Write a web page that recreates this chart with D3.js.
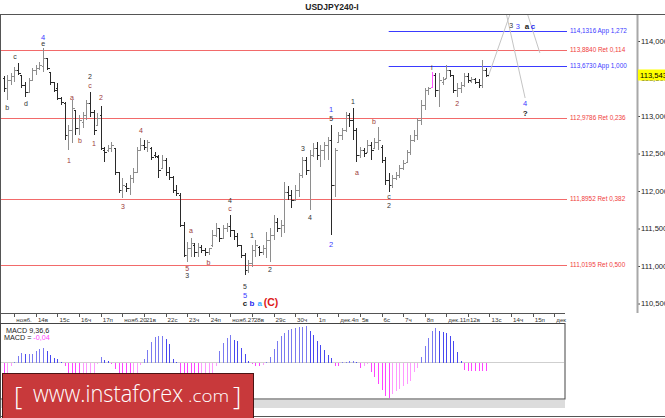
<!DOCTYPE html>
<html><head><meta charset="utf-8">
<script src="https://cdn.jsdelivr.net/npm/d3@7"></script>
<style>body{margin:0;background:#fff;}svg{display:block;font-family:"Liberation Sans",Arial,sans-serif;}</style>
</head><body>
<svg id="c" width="665" height="418"></svg>
<script>
// ---------- DATA ----------
const opens = [113.51,113.37,113.48,113.53,113.61,113.55,113.41,113.32,113.48,113.61,113.64,113.67,113.77,113.59,113.45,113.37,113.24,113.17,112.75,112.81,113.08,112.84,112.92,113.01,113.17,113.05,112.88,113.01,112.55,112.55,112.57,112.57,112.25,112.01,112.07,112.04,112.17,112.25,112.55,112.61,112.59,112.57,112.48,112.45,112.31,112.41,112.25,112.19,112.01,111.95,111.55,111.15,111.24,111.28,111.19,111.25,111.21,111.19,111.28,111.41,111.51,111.37,111.51,111.53,111.48,111.40,111.28,111.15,110.95,111.04,111.21,111.25,111.19,111.24,111.35,111.41,111.59,111.51,111.55,111.99,111.95,111.88,112.01,112.21,112.41,112.28,112.48,112.57,112.48,112.55,112.61,112.68,112.08,112.65,112.75,112.81,113.01,112.95,112.81,112.48,112.55,112.52,112.61,112.57,112.65,112.59,112.41,112.15,112.08,112.17,112.21,112.31,112.39,112.52,112.68,112.75,112.95,113.15,113.35,113.39,113.55,113.35,113.45,113.51,113.61,113.55,113.35,113.37,113.41,113.53,113.47,113.49,113.45,113.41,113.61];
const highs = [113.53,113.55,113.57,113.65,113.71,113.55,113.45,113.51,113.64,113.68,113.72,113.91,113.77,113.59,113.45,113.44,113.25,113.19,112.88,113.21,113.08,113.01,113.05,113.21,113.32,113.08,113.04,113.13,112.59,112.61,112.65,112.57,112.25,112.17,112.11,112.21,112.31,112.59,112.71,112.68,112.68,112.59,112.52,112.48,112.48,112.44,112.32,112.20,112.08,111.97,111.59,111.32,111.37,111.31,111.31,111.28,111.24,111.24,111.48,111.57,111.51,111.55,111.57,111.68,111.48,111.44,111.28,111.17,111.08,111.28,111.35,111.27,111.28,111.45,111.51,111.68,111.64,111.61,112.12,112.07,112.01,112.08,112.24,112.45,112.45,112.55,112.64,112.65,112.61,112.65,112.72,112.88,112.57,112.79,112.84,113.05,113.04,113.11,112.84,112.59,112.57,112.68,112.65,112.71,112.85,112.61,112.45,112.24,112.21,112.25,112.35,112.41,112.55,112.75,112.81,112.97,113.21,113.37,113.39,113.59,113.57,113.57,113.52,113.68,113.61,113.55,113.44,113.45,113.57,113.57,113.52,113.51,113.49,113.75,113.64];
const lows = [113.32,113.21,113.41,113.45,113.55,113.37,113.25,113.31,113.48,113.55,113.61,113.59,113.61,113.41,113.32,113.21,113.15,112.68,112.55,112.64,112.75,112.75,112.84,112.95,112.99,112.75,112.88,112.55,112.39,112.52,112.52,112.21,111.97,111.91,111.99,111.95,112.11,112.24,112.55,112.55,112.52,112.41,112.44,112.17,112.31,112.20,112.15,111.97,111.93,111.52,111.12,111.05,111.12,111.12,111.12,111.17,111.13,111.15,111.25,111.39,111.32,111.37,111.45,111.39,111.35,111.25,111.11,110.88,110.91,110.99,111.12,111.13,111.15,111.11,111.05,111.35,111.45,111.39,111.44,111.88,111.77,111.88,111.92,112.17,112.21,111.75,112.45,112.41,112.32,112.41,112.41,111.41,111.92,112.65,112.68,112.79,112.85,112.68,112.39,112.44,112.45,112.52,112.41,112.57,112.55,112.37,112.08,111.99,112.04,112.15,112.17,112.28,112.39,112.48,112.65,112.68,112.88,113.08,113.28,113.39,113.25,113.12,113.41,113.51,113.52,113.31,113.25,113.31,113.39,113.44,113.44,113.43,113.37,113.37,113.52];
const closes = [113.37,113.48,113.53,113.61,113.57,113.41,113.32,113.48,113.61,113.64,113.68,113.77,113.64,113.45,113.35,113.24,113.19,112.75,112.81,113.11,112.84,112.95,113.01,113.17,113.05,112.81,112.97,112.57,112.52,112.57,112.61,112.25,112.01,112.08,112.04,112.17,112.25,112.55,112.61,112.59,112.65,112.45,112.47,112.28,112.41,112.25,112.19,112.01,111.97,111.55,111.15,111.24,111.31,111.19,111.25,111.21,111.19,111.24,111.41,111.51,111.37,111.51,111.53,111.48,111.40,111.28,111.15,110.95,111.04,111.21,111.28,111.19,111.24,111.35,111.41,111.59,111.51,111.55,111.99,111.95,111.88,112.01,112.21,112.41,112.28,112.48,112.57,112.48,112.55,112.61,112.68,112.08,112.55,112.75,112.81,113.01,112.95,112.81,112.48,112.55,112.51,112.61,112.55,112.65,112.68,112.41,112.15,112.08,112.17,112.21,112.31,112.37,112.52,112.68,112.75,112.95,113.15,113.35,113.37,113.55,113.35,113.48,113.49,113.61,113.55,113.35,113.37,113.41,113.53,113.48,113.49,113.45,113.41,113.61,113.543];
const macd = [-0.06,-0.05,-0.015,0.005,0.035,0.05,0.045,0.045,0.045,0.06,0.07,0.075,0.06,0.04,0.025,0.02,0.005,-0.015,-0.06,-0.07,-0.08,-0.08,-0.075,-0.07,-0.06,-0.05,-0.005,0.03,0.015,0.01,-0.005,-0.03,-0.055,-0.07,-0.08,-0.08,-0.07,-0.055,-0.01,0.02,0.065,0.105,0.13,0.135,0.135,0.12,0.095,0.02,0.005,-0.05,-0.065,-0.085,-0.1,-0.11,-0.11,-0.1,-0.085,-0.065,-0.055,-0.015,0.06,0.1,0.125,0.14,0.115,0.11,0.075,0.045,0.01,-0.005,-0.015,-0.015,-0.01,0.005,0.03,0.07,0.11,0.135,0.15,0.165,0.17,0.175,0.18,0.18,0.185,0.16,0.14,0.11,0.09,0.065,0.04,0.025,-0.015,-0.015,0.005,0.005,0.01,0.01,0.0025,-0.025,-0.015,-0.005,-0.045,-0.07,-0.105,-0.135,-0.165,-0.175,-0.155,-0.14,-0.13,-0.115,-0.105,-0.09,-0.045,-0.025,0.03,0.085,0.125,0.16,0.175,0.16,0.155,0.15,0.135,0.11,0.055,0.01,-0.035,-0.04,-0.04,-0.04,-0.04,-0.04,-0.04];
const lastPrice = 113.543;
const macdNow = "-0,04";
const priceTicks = [110.5,111,111.5,112,112.5,113,113.5,114];
const dayTicks = [3,9,15,21,27,33,39,45,51,57,63,69,75,81,87,93,99,105,111,117,123,129,135,141,147,153];
const dayLabels = ["нояб.","14в","15с","16ч","17п","нояб.20","21в","22с","23ч","24п","нояб.27","28в","29с","30ч","1п","дек.4п","5в","6с","7ч","8п","дек.11п","12в","13с","14ч","15п","дек"];
const fibLevels = [114.1316,113.8840,113.6730,112.9786,111.8952,111.0195];
const fibTexts = ["114,1316 App 1,272","113,8840 Ret 0,114","113,6730 App 1,000","112,9786 Ret 0,236","111,8952 Ret 0,382","111,0195 Ret 0,500"];
const fibKinds = ["app","ret","app","ret","ret","ret"];
const fibFrom = [107,0,107,0,0,0];
const waveI = [1.0,3.2,6.25,11,11,19,21.25,18.2,25.1,24,24,27.1,33.2,38.2,52.1,51,51,56.9,62.9,62.9,69,74,67.1,67.1,67.1,69,71.2,74.3,83.2,85.1,91,91,91,97.1,98.2,102.9,107.1,107.1,119,126,141,142.9,145.4,147.1,144.9,144.9];
const waveP = [113.11,113.79,113.16,114.05,113.96,113.25,112.67,112.41,112.63,113.52,113.40,113.24,111.79,112.80,111.47,110.97,110.87,111.04,111.87,111.76,111.41,110.95,110.73,110.61,110.51,110.51,110.51,110.51,112.57,111.64,111.29,113.09,112.96,113.19,112.25,112.92,111.92,111.81,113.64,113.17,114.20,114.20,114.20,114.20,113.17,113.04];
const waveT = ["b","c","d","4","e","a","b","1","1","2","c","2","3","4","a","5","3","b","4","c","1","2","5","5","c","b","a","(C)","3","4","2","1","5","1","a","b","c","2","i","2","3","3","a","c","4","?"];
const waveK = ["dk","dk","dk","bl","dk","rd","rd","rd","rd","dk","rd","rd","rd","rd","rd","rd","dk","rd","dk","rd","dk","dk","dk","bl","dkb","blb","lbb","rrb","dk","dk","bl","bl","dk","dk","rd","rd","dk","dk","dk","rd","dk","bl","dkb","blb","bl","dkb"];
const projFromI = [134.6,138.8,144.3], projFromP = [113.52,114.55,114.55];
const projToI = [142.1,144.9,149.0], projToP = [114.55,113.24,113.84];
const highlightBar = 119;

// ---------- LAYOUT ----------
const svg = d3.select("#c");
const x = d3.scaleLinear().domain([0,153]).range([3.5,554.3]);
const y = d3.scaleLinear().domain([110,114]).range([341,41]);
const ym = d3.scaleLinear().domain([-0.2,0.2]).range([402.5,322.5]);
const fmt3 = d => d3.format(".3f")(d).replace(".", ",");

svg.append("rect").attr("width",665).attr("height",418).attr("fill","#fff");

svg.append("defs").append("clipPath").attr("id","mc").append("rect")
  .attr("x",1).attr("y",15).attr("width",635).attr("height",297);

const main = svg.append("g").attr("clip-path","url(#mc)");

// fib lines
const fib = fibLevels.map((v,k)=>({v,t:fibTexts[k],kind:fibKinds[k],from:fibFrom[k]}));
main.selectAll("line.fib").data(fib).join("line")
  .attr("x1",d=>d.from===0?0:x(d.from)).attr("x2",567)
  .attr("y1",d=>Math.round(y(d.v))+0.5).attr("y2",d=>Math.round(y(d.v))+0.5)
  .attr("stroke",d=>d.kind==="app"?"#3a3aff":"#f26a6a").attr("stroke-width",1.2);
main.selectAll("text.fib").data(fib).join("text")
  .attr("x",570).attr("y",d=>y(d.v)).attr("dy","0.35em")
  .attr("font-size",6.4).attr("fill",d=>d.kind==="app"?"#3a3aff":"#f03c3c").text(d=>d.t);

// projection lines
main.selectAll("line.proj").data(projFromI.map((v,k)=>k)).join("line")
  .attr("x1",k=>x(projFromI[k])).attr("y1",k=>y(projFromP[k]))
  .attr("x2",k=>x(projToI[k])).attr("y2",k=>y(projToP[k]))
  .attr("stroke","#c4c4c4").attr("stroke-width",1);

// OHLC bars
const bars = opens.map((o,i)=>({i,o,h:highs[i],l:lows[i],c:closes[i]}));
const bg = main.append("g").attr("shape-rendering","crispEdges");
bars.forEach(d=>{
  const col = d.i===highlightBar ? "#ff55ff" : (d.c>=d.o ? "#8e8e8e" : "#2a2a2a");
  const cx = Math.round(x(d.i))+0.5;
  bg.append("line").attr("x1",cx).attr("x2",cx).attr("y1",y(d.h)).attr("y2",y(d.l)).attr("stroke",col);
  bg.append("line").attr("x1",cx-2).attr("x2",cx).attr("y1",Math.round(y(d.o))+0.5).attr("y2",Math.round(y(d.o))+0.5).attr("stroke",col);
  bg.append("line").attr("x1",cx).attr("x2",cx+2).attr("y1",Math.round(y(d.c))+0.5).attr("y2",Math.round(y(d.c))+0.5).attr("stroke",col);
});

// wave labels
const kindStyle = {
  dk:{f:"#333",w:"normal",s:7}, rd:{f:"#9c3a3a",w:"normal",s:7}, bl:{f:"#3a3aff",w:"normal",s:7.5},
  dkb:{f:"#222",w:"bold",s:8}, blb:{f:"#2a2aee",w:"bold",s:8}, lbb:{f:"#33aaff",w:"bold",s:8}, rrb:{f:"#dd1a1a",w:"bold",s:10.5}
};
const waves = waveT.map((t,k)=>({t,i:waveI[k],p:waveP[k],st:kindStyle[waveK[k]]}));
main.selectAll("text.wave").data(waves).join("text")
  .attr("x",d=>x(d.i)).attr("y",d=>y(d.p)).attr("dy","0.35em").attr("text-anchor","middle")
  .attr("font-size",d=>d.st.s).attr("font-weight",d=>d.st.w).attr("fill",d=>d.st.f).text(d=>d.t);

// price axis (labels run into the right edge, as in the reference)
const ax = svg.append("g").attr("transform","translate(637,0)")
  .call(d3.axisRight(y).tickValues(priceTicks).tickFormat(fmt3).tickSize(3).tickPadding(1));
ax.select(".domain").remove();
ax.selectAll(".tick line").attr("stroke","#444");
ax.selectAll(".tick text").attr("font-size",7.6).attr("fill","#222").attr("font-family","Liberation Sans, Arial, sans-serif");
svg.append("line").attr("x1",637.5).attr("x2",637.5).attr("y1",14).attr("y2",313).attr("stroke","#a8a8a8").attr("stroke-width",2);

// current price box
svg.append("rect").attr("x",638).attr("y",Math.round(y(lastPrice))-5.5).attr("width",27).attr("height",11).attr("fill","#ffff00");
svg.append("text").attr("x",640).attr("y",y(lastPrice)).attr("dy","0.35em").attr("font-size",7.6).attr("fill","#000").text(fmt3(lastPrice));

// title + frame
svg.append("text").attr("x",332).attr("y",7).attr("dy","0.35em").attr("text-anchor","middle")
  .attr("font-size",8.5).attr("font-weight","bold").attr("fill","#222").text("USDJPY240-I");
svg.append("line").attr("x1",0).attr("x2",665).attr("y1",14.5).attr("y2",14.5).attr("stroke","#555");
svg.append("line").attr("x1",0.5).attr("x2",0.5).attr("y1",14).attr("y2",418).attr("stroke","#555");
svg.append("line").attr("x1",0).attr("x2",665).attr("y1",416.5).attr("y2",416.5).attr("stroke","#555");

// time axis
const tg = svg.append("g").attr("transform","translate(0,313)");
tg.append("line").attr("x1",0).attr("x2",565).attr("y1",0.5).attr("y2",0.5).attr("stroke","#555");
const ticks = dayTicks.map((v,k)=>({v,t:dayLabels[k]}));
tg.selectAll("line.t").data(ticks).join("line")
  .attr("x1",d=>Math.round(x(d.v))+0.5).attr("x2",d=>Math.round(x(d.v))+0.5).attr("y1",0).attr("y2",4).attr("stroke","#555");
tg.selectAll("text.t").data(ticks).join("text")
  .attr("x",d=>x(d.v)+2).attr("y",6).attr("dy","0.5em").attr("font-size",6.2).attr("fill","#333").text(d=>d.t);

// MACD panel
svg.append("rect").attr("x",0.5).attr("y",323.5).attr("width",564.5).attr("height",75.5).attr("fill","#fff").attr("stroke","#444");
svg.append("line").attr("x1",1).attr("x2",564).attr("y1",ym(0)).attr("y2",ym(0)).attr("stroke","#cfcfcf");
const mg = svg.append("g").attr("shape-rendering","crispEdges");
mg.selectAll("line").data(macd.map((v,i)=>({v,i}))).join("line")
  .attr("x1",d=>Math.round(x(d.i))+0.5).attr("x2",d=>Math.round(x(d.i))+0.5)
  .attr("y1",ym(0)).attr("y2",d=>ym(d.v))
  .attr("stroke",d=>{const p=d.i>0?macd[d.i-1]:0; if(d.v>=0) return d.v>=p?"#7a7af0":"#4848f0"; return d.v<=p?"#ff44ff":"#ff99ff";});
svg.append("text").attr("x",6).attr("y",330).attr("dy","0.35em").attr("font-size",7.2).attr("fill","#222").text("MACD 9,36,6");
const mt = svg.append("text").attr("x",4).attr("y",337.5).attr("dy","0.35em").attr("font-size",7.2).attr("fill","#222");
mt.append("tspan").text("MACD = ");
mt.append("tspan").attr("fill","#ff44ff").text(macdNow);

// scrollbar
svg.append("rect").attr("x",1).attr("y",400).attr("width",564).attr("height",8).attr("fill","#dcdcdc");

// logo
const lg = svg.append("g");
lg.append("rect").attr("x",2.5).attr("y",373.5).attr("width",251).attr("height",46).attr("fill","#c8393b").attr("stroke","#4a1414");
lg.append("text").attr("x",14).attr("y",405).attr("font-size",26).attr("font-family","Open Sans, sans-serif").attr("font-weight",300).attr("fill","#fff").text("[");
lg.append("text").attr("x",33).attr("y",402).attr("font-size",24).attr("font-family","Open Sans, sans-serif").attr("font-weight",300).attr("fill","#fff")
  .attr("textLength",150).attr("lengthAdjust","spacingAndGlyphs").text("www.instaforex");
lg.append("text").attr("x",188).attr("y",402).attr("font-size",16).attr("font-family","Open Sans, sans-serif").attr("font-weight",300).attr("fill","#fff")
  .attr("textLength",41).attr("lengthAdjust","spacingAndGlyphs").text(".com");
lg.append("text").attr("x",233).attr("y",405).attr("font-size",26).attr("font-family","Open Sans, sans-serif").attr("font-weight",300).attr("fill","#fff").text("]");
</script>
</body></html>
